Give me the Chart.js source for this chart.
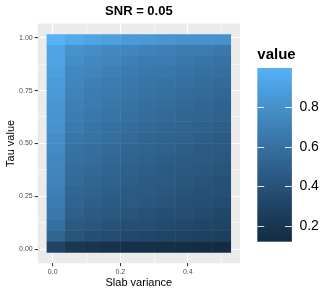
<!DOCTYPE html>
<html>
<head>
<meta charset="utf-8">
<script src="https://cdn.jsdelivr.net/npm/chart.js@4/dist/chart.umd.min.js"></script>
<style>
  html, body { margin: 0; padding: 0; background: #ffffff; }
  #wrap { width: 332px; height: 295px; }
</style>
</head>
<body>
<div id="wrap"><canvas id="c" width="332" height="295"></canvas></div>
<script>
// ---- data ----
const slabVariance = [0.01, 0.0644, 0.1189, 0.1733, 0.2278, 0.2822, 0.3367, 0.3911, 0.4456, 0.5];
const tauValues = [0.01, 0.0616, 0.1132, 0.1647, 0.2163, 0.2679, 0.3195, 0.3711, 0.4226, 0.4742,
                   0.5258, 0.5774, 0.6289, 0.6805, 0.7321, 0.7837, 0.8353, 0.8868, 0.9384, 0.99];
// one row per tau value (bottom to top), one entry per slab variance (left to right)
const valueRows = [
  [0.30, 0.21, 0.19, 0.17, 0.16, 0.16, 0.15, 0.14, 0.13, 0.12],
  [0.53, 0.41, 0.38, 0.36, 0.34, 0.32, 0.30, 0.29, 0.28, 0.26],
  [0.60, 0.45, 0.43, 0.40, 0.38, 0.37, 0.35, 0.33, 0.31, 0.30],
  [0.65, 0.49, 0.46, 0.44, 0.42, 0.40, 0.38, 0.37, 0.35, 0.32],
  [0.68, 0.52, 0.49, 0.46, 0.45, 0.43, 0.41, 0.39, 0.38, 0.36],
  [0.70, 0.53, 0.51, 0.48, 0.46, 0.45, 0.43, 0.41, 0.39, 0.38],
  [0.72, 0.56, 0.53, 0.51, 0.48, 0.46, 0.45, 0.43, 0.41, 0.39],
  [0.74, 0.58, 0.55, 0.52, 0.50, 0.48, 0.46, 0.45, 0.43, 0.41],
  [0.75, 0.60, 0.57, 0.54, 0.52, 0.50, 0.48, 0.46, 0.45, 0.43],
  [0.77, 0.61, 0.59, 0.56, 0.53, 0.52, 0.50, 0.48, 0.46, 0.45],
  [0.79, 0.64, 0.61, 0.59, 0.56, 0.53, 0.52, 0.50, 0.48, 0.46],
  [0.81, 0.66, 0.63, 0.60, 0.58, 0.55, 0.53, 0.52, 0.50, 0.48],
  [0.82, 0.68, 0.65, 0.62, 0.60, 0.57, 0.55, 0.53, 0.52, 0.50],
  [0.84, 0.70, 0.67, 0.64, 0.61, 0.59, 0.57, 0.55, 0.53, 0.52],
  [0.86, 0.72, 0.68, 0.66, 0.64, 0.61, 0.60, 0.58, 0.56, 0.54],
  [0.87, 0.74, 0.70, 0.67, 0.65, 0.63, 0.61, 0.60, 0.58, 0.56],
  [0.89, 0.75, 0.73, 0.70, 0.67, 0.65, 0.64, 0.62, 0.60, 0.59],
  [0.91, 0.78, 0.75, 0.73, 0.70, 0.67, 0.67, 0.65, 0.63, 0.61],
  [0.92, 0.81, 0.78, 0.75, 0.74, 0.71, 0.70, 0.68, 0.67, 0.65],
  [1.00, 0.95, 0.92, 0.89, 0.87, 0.85, 0.83, 0.82, 0.81, 0.80]
];
const xTickLabels = ['0.0', '0.2', '0.4'];
const yTickLabels = ['0.00', '0.25', '0.50', '0.75', '1.00'];
const legendTicks = [0.2, 0.4, 0.6, 0.8];
const chartTitle = 'SNR = 0.05';
const xTitle = 'Slab variance';
const yTitle = 'Tau value';
const legendTitle = 'value';

// ---- colour scale (ggplot2 default continuous gradient, Lab interpolation) ----
const LOW = '#132B43', HIGH = '#56B1F7';
function hexToRgb(h) { return [1, 3, 5].map(i => parseInt(h.substr(i, 2), 16)); }
function toLin(c) { c /= 255; return c <= 0.04045 ? c / 12.92 : Math.pow((c + 0.055) / 1.055, 2.4); }
function fromLin(c) { c = c <= 0.0031308 ? 12.92 * c : 1.055 * Math.pow(c, 1 / 2.4) - 0.055; return Math.max(0, Math.min(255, Math.round(c * 255))); }
const WN = [0.95047, 1.0, 1.08883];
function fLab(t) { const d = 6 / 29; return t > d * d * d ? Math.cbrt(t) : t / (3 * d * d) + 4 / 29; }
function fInv(t) { const d = 6 / 29; return t > d ? t * t * t : 3 * d * d * (t - 4 / 29); }
function rgbToLab(rgb) {
  const [r, g, b] = rgb.map(toLin);
  const X = (0.4124564 * r + 0.3575761 * g + 0.1804375 * b) / WN[0];
  const Y = (0.2126729 * r + 0.7151522 * g + 0.0721750 * b) / WN[1];
  const Z = (0.0193339 * r + 0.1191920 * g + 0.9503041 * b) / WN[2];
  const fx = fLab(X), fy = fLab(Y), fz = fLab(Z);
  return [116 * fy - 16, 500 * (fx - fy), 200 * (fy - fz)];
}
function labToRgb(lab) {
  const fy = (lab[0] + 16) / 116, fx = fy + lab[1] / 500, fz = fy - lab[2] / 200;
  const X = fInv(fx) * WN[0], Y = fInv(fy) * WN[1], Z = fInv(fz) * WN[2];
  const r = 3.2404542 * X - 1.5371385 * Y - 0.4985314 * Z;
  const g = -0.9692660 * X + 1.8760108 * Y + 0.0415560 * Z;
  const b = 0.0556434 * X - 0.2040259 * Y + 1.0572252 * Z;
  return [fromLin(r), fromLin(g), fromLin(b)];
}
const labLow = rgbToLab(hexToRgb(LOW)), labHigh = rgbToLab(hexToRgb(HIGH));
const allValues = valueRows.flat();
const vMin = Math.min(...allValues), vMax = Math.max(...allValues);
function colourFor(v) {
  const t = Math.max(0, Math.min(1, (v - vMin) / (vMax - vMin)));
  const lab = labLow.map((l, i) => l + (labHigh[i] - l) * t);
  const [r, g, b] = labToRgb(lab);
  return `rgb(${r},${g},${b})`;
}

// ---- tile extents derived from the data spacing ----
const halfTau = (tauValues[1] - tauValues[0]) / 2;
const halfSlab = (slabVariance[1] - slabVariance[0]) / 2;
const xLo = slabVariance[0] - halfSlab, xHi = slabVariance[slabVariance.length - 1] + halfSlab;
const yLo = tauValues[0] - halfTau, yHi = tauValues[tauValues.length - 1] + halfTau;
const xPad = (xHi - xLo) * 0.05, yPad = (yHi - yLo) * 0.05;

const datasets = tauValues.map((tau, i) => ({
  label: 'tau ' + tau,
  data: slabVariance.map(sv => ({ x: sv, y: [tau - halfTau, tau + halfTau] })),
  backgroundColor: valueRows[i].map(colourFor),
  borderWidth: 0,
  inflateAmount: 0.25,
  grouped: false,
  barPercentage: 1,
  categoryPercentage: 1
}));

const FONT = '"Liberation Sans", Arial, Helvetica, sans-serif';
const isMajor = (v, step) => Math.abs(v / step - Math.round(v / step)) < 1e-6;
const tickVal = ctx => (ctx && ctx.tick) ? ctx.tick.value : null;

const panelBg = {
  id: 'panelBg',
  beforeDraw(chart) {
    const { ctx, chartArea: a } = chart;
    ctx.save();
    ctx.fillStyle = '#EBEBEB';
    ctx.fillRect(a.left, a.top, a.right - a.left, a.bottom - a.top);
    ctx.restore();
  }
};

const colourBar = {
  id: 'colourBar',
  afterDraw(chart) {
    const { ctx, chartArea: a } = chart;
    const bx = a.right + 17.3, bw = 34.6;
    const by = 68, bh = 173.7;
    ctx.save();
    ctx.fillStyle = '#000';
    ctx.font = `bold 15px ${FONT}`;
    ctx.textAlign = 'left';
    ctx.textBaseline = 'alphabetic';
    ctx.fillText(legendTitle, bx, 58.5);
    const grad = ctx.createLinearGradient(0, by + bh, 0, by);
    for (let k = 0; k <= 20; k++) {
      const v = vMin + (vMax - vMin) * k / 20;
      grad.addColorStop(k / 20, colourFor(v));
    }
    ctx.fillStyle = grad;
    ctx.fillRect(bx, by, bw, bh);
    ctx.font = `14px ${FONT}`;
    ctx.textBaseline = 'middle';
    legendTicks.forEach(v => {
      const y = Math.round(by + bh - (v - vMin) / (vMax - vMin) * bh) + 0.5;
      ctx.strokeStyle = 'rgba(255,255,255,0.85)';
      ctx.lineWidth = 1;
      ctx.beginPath();
      ctx.moveTo(bx, y); ctx.lineTo(bx + bw / 5, y);
      ctx.moveTo(bx + bw - bw / 5, y); ctx.lineTo(bx + bw, y);
      ctx.stroke();
      ctx.fillStyle = '#000';
      ctx.fillText(v.toFixed(1), bx + bw + 7.5, y);
    });
    ctx.restore();
  }
};

new Chart(document.getElementById('c'), {
  type: 'bar',
  data: { datasets },
  plugins: [panelBg, colourBar],
  options: {
    responsive: false,
    animation: false,
    events: [],
    layout: { padding: { left: 0, right: 92, top: 0, bottom: 0 } },
    plugins: {
      legend: { display: false },
      tooltip: { enabled: false },
      title: {
        display: true,
        text: chartTitle,
        fullSize: false,
        color: '#000',
        font: { family: FONT, size: 13, weight: 'bold', lineHeight: 1.2 },
        padding: { top: 3.5, bottom: 4.4 }
      }
    },
    scales: {
      x: {
        type: 'linear',
        offset: false,
        min: xLo - xPad,
        max: xHi + xPad,
        afterFit(s) { s.height = 31.7; },
        border: { display: false },
        grid: {
          offset: false,
          color: '#FFFFFF',
          lineWidth: ctx => { const v = tickVal(ctx); return v === null || isMajor(v, 0.2) ? 1.07 : 0.53; },
          tickColor: ctx => { const v = tickVal(ctx); return v !== null && isMajor(v, 0.2) ? '#333333' : 'rgba(0,0,0,0)'; },
          tickLength: 3,
          tickWidth: 1.07
        },
        ticks: {
          stepSize: 0.1,
          includeBounds: false,
          autoSkip: false,
          maxRotation: 0,
          padding: 2,
          color: '#4D4D4D',
          font: { family: FONT, size: 7 },
          callback: v => {
            const idx = xTickLabels.indexOf(Number(v).toFixed(1));
            return isMajor(v, 0.2) && idx >= 0 ? xTickLabels[idx] : '';
          }
        },
        title: {
          display: true,
          text: xTitle,
          color: '#000',
          font: { family: FONT, size: 11, lineHeight: 1.2 },
          padding: { top: 0, bottom: 5 }
        }
      },
      y: {
        type: 'linear',
        offset: false,
        min: yLo - yPad,
        max: yHi + yPad,
        afterFit(s) { s.width = 37.7; },
        border: { display: false },
        grid: {
          offset: false,
          color: '#FFFFFF',
          lineWidth: ctx => { const v = tickVal(ctx); return v === null || isMajor(v, 0.25) ? 1.07 : 0.53; },
          tickColor: ctx => { const v = tickVal(ctx); return v !== null && isMajor(v, 0.25) ? '#333333' : 'rgba(0,0,0,0)'; },
          tickLength: 3,
          tickWidth: 1.07
        },
        ticks: {
          stepSize: 0.125,
          includeBounds: false,
          autoSkip: false,
          padding: 2,
          color: '#4D4D4D',
          font: { family: FONT, size: 7 },
          callback: v => {
            const idx = yTickLabels.indexOf(Number(v).toFixed(2));
            return isMajor(v, 0.25) && idx >= 0 ? yTickLabels[idx] : '';
          }
        },
        title: {
          display: true,
          text: yTitle,
          color: '#000',
          font: { family: FONT, size: 11, lineHeight: 1.2 },
          padding: { top: 4, bottom: 0 }
        }
      }
    }
  }
});
</script>
</body>
</html>
